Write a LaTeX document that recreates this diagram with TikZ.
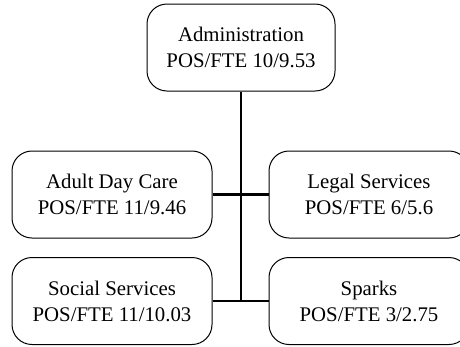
\documentclass[tikz,border=0pt]{standalone}
\usepackage{fontspec}
\setmainfont{Liberation Serif}
\begin{document}
\begin{tikzpicture}[x=1pt,y=-1pt,
  box/.style={draw, line width=1pt, rounded corners=20pt, align=center, inner sep=0pt,
    minimum width=200pt, minimum height=87pt,
    font=\fontsize{20.8}{26}\selectfont},
  conn/.style={line width=2.2pt}]
\useasboundingbox (0,0) rectangle (460,346);
\clip (0,0) rectangle (460,346);
\node[box, minimum width=188pt] (admin) at (241,47.5) {Administration\\POS/FTE 10/9.53};
\node[box] (adc) at (112,194.5) {Adult Day Care\\POS/FTE 11/9.46};
\node[box] (social) at (112,301) {Social Services\\POS/FTE 11/10.03};
\node[box] (legal) at (369,194.5) {Legal Services\\POS/FTE 6/5.6};
\node[box] (sparks) at (369,301) {Sparks\\POS/FTE 3/2.75};
\draw[conn] (admin.south) -- (admin.south |- social);
\draw[conn] (adc) -- (legal);
\draw[conn] (social) -- (sparks);
\end{tikzpicture}
\end{document}
